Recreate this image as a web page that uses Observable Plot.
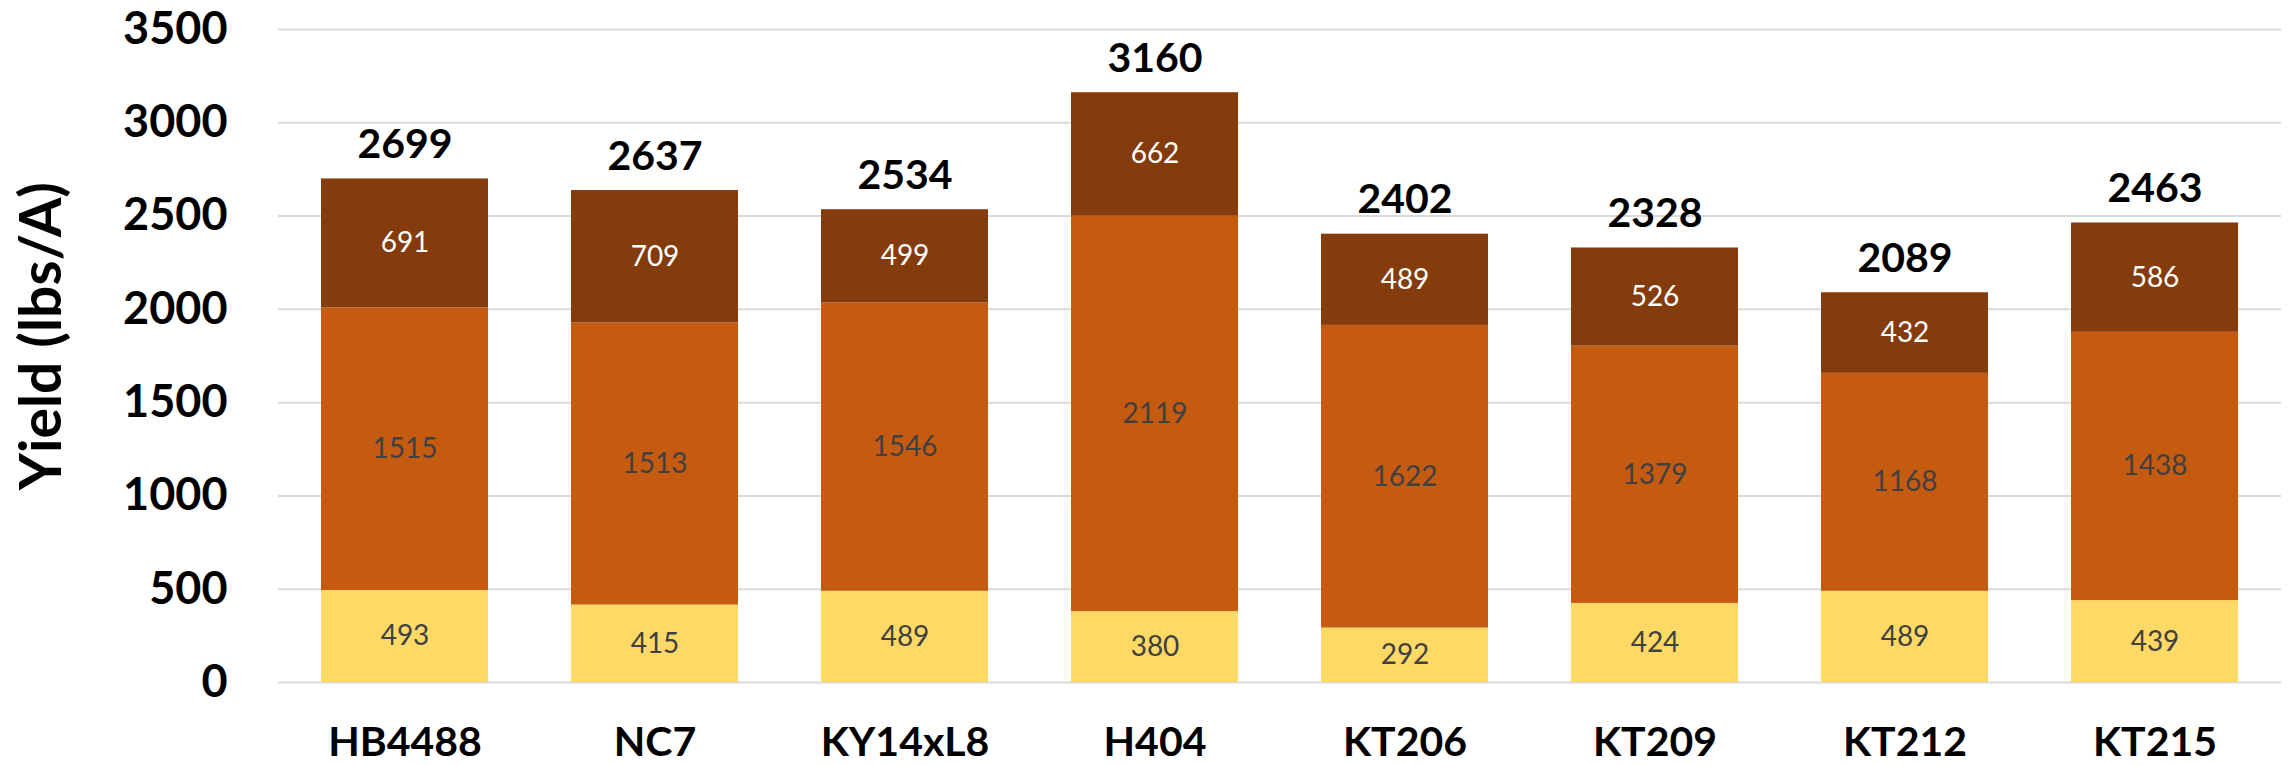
<!DOCTYPE html>
<html>
<head>
<meta charset="utf-8">
<script src="https://cdn.jsdelivr.net/npm/d3@7"></script>
<script src="https://cdn.jsdelivr.net/npm/@observablehq/plot@0.6"></script>
<style>
  html, body { margin: 0; padding: 0; background: #ffffff; }
  #chart { width: 2295px; height: 765px; color: #000; }
</style>
</head>
<body>
<div id="chart"></div>
<script>
const varieties = ["HB4488", "NC7", "KY14xL8", "H404", "KT206", "KT209", "KT212", "KT215"];
const parts = ["Bottom", "Middle", "Top"];
const bottomValues = [493, 415, 489, 380, 292, 424, 489, 439];
const middleValues = [1515, 1513, 1546, 2119, 1622, 1379, 1168, 1438];
const topValues = [691, 709, 499, 662, 489, 526, 432, 586];
const totalValues = [2699, 2637, 2534, 3160, 2402, 2328, 2089, 2463];
const yTicks = [0, 500, 1000, 1500, 2000, 2500, 3000, 3500];
const partColors = ["#FFD966", "#C55A11", "#843C0C"];
const yTitle = "Yield (lbs/A)";

const seriesValues = [bottomValues, middleValues, topValues];
const segments = [];
parts.forEach((p, j) => {
  varieties.forEach((v, i) => {
    segments.push({variety: v, part: p, value: seriesValues[j][i]});
  });
});
const totals = varieties.map((v, i) => ({variety: v, total: totalValues[i]}));

const font = "Lato, 'Open Sans', sans-serif";

const chart = Plot.plot({
  width: 2295,
  height: 765,
  marginLeft: 278,
  marginRight: 14,
  marginTop: 29,
  marginBottom: 83,
  style: {fontFamily: font, background: "#ffffff", color: "#000"},
  x: {domain: varieties, paddingInner: 1/3, paddingOuter: 1/6},
  y: {domain: [0, 3500]},
  color: {domain: parts, range: partColors},
  marks: [
    Plot.gridY({ticks: yTicks, stroke: "#d9d9d9", strokeOpacity: 1, strokeWidth: 2}),
    Plot.barY(segments, {x: "variety", y: "value", fill: "part", z: "part", order: parts}),
    Plot.text(segments.filter(d => d.part !== "Top"), Plot.stackY({
      x: "variety", y: "value", z: "part", order: parts,
      text: d => String(d.value), fill: "#404040", fontSize: 28, fontFamily: font
    })),
    Plot.text(segments, Plot.stackY({
      x: "variety", y: "value", z: "part", order: parts,
      text: d => d.part === "Top" ? String(d.value) : "", fill: "#ffffff", fontSize: 28, fontFamily: font
    })),
    Plot.text(totals, {
      x: "variety", y: "total", text: d => String(d.total),
      dy: -34, fontSize: 41, fontWeight: "bold", fill: "#000", fontFamily: font
    }),
    Plot.axisY({ticks: yTicks, tickFormat: d => String(d), tickSize: 0, tickPadding: 51, fontSize: 45, fontWeight: "bold", label: null, fontFamily: font}),
    Plot.axisX({tickSize: 0, tickPadding: 44, fontSize: 41, fontWeight: "bold", label: null, fontFamily: font}),
    Plot.text([yTitle], {
      text: d => d, frameAnchor: "left", textAnchor: "middle", rotate: -90,
      dx: -236, dy: -20, fontSize: 57, fontWeight: "bold", fill: "#000", fontFamily: font
    })
  ]
});
document.getElementById("chart").appendChild(chart);
</script>
</body>
</html>
